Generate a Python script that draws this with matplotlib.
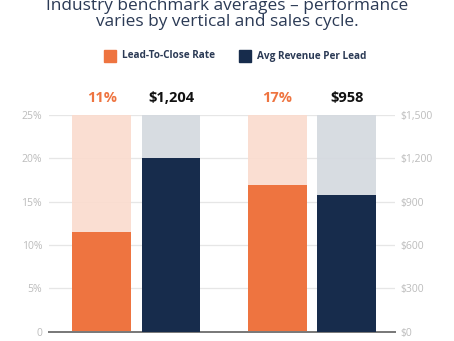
import matplotlib
matplotlib.use("Agg")
import matplotlib.pyplot as plt
import numpy as np

plt.rcParams['font.family'] = ['Open Sans', 'DejaVu Sans']

# data
groups = [0, 1]
close_rate = [11.5, 16.9]          # % (bar heights)
close_labels = ['11%', '17%']
revenue = [1200, 945]              # $ (bar heights)
revenue_labels = ['$1,204', '$958']
pct_ticks = [0, 5, 10, 15, 20, 25]
pct_ticklabels = ['0', '5%', '10%', '15%', '20%', '25%']
usd_ticks = [0, 300, 600, 900, 1200, 1500]
usd_ticklabels = ['$0', '$300', '$600', '$900', '$1,200', '$1,500']

orange = '#ee7440'
orange_light = '#fadccf'
navy = '#172c4c'
gray_light = '#d4d9df'
title_col = '#2b3a55'
tick_col = '#bcbcbc'

fig = plt.figure(figsize=(4.54, 3.41), dpi=100)
ax = fig.add_axes([0.108, 0.027, 0.762, 0.636])
ax2 = ax.twinx()

x = np.array(groups, dtype=float)
w = 0.335
off = 0.197

# orange series on left axis
ax.bar(x - off, [25, 25], w, color=orange_light, alpha=0.92, zorder=2)
ax.bar(x - off, close_rate, w, color=orange, zorder=3)
ax.set_ylim(0, 25)
ax.set_xlim(-0.496, 1.47)
ax.set_yticks(pct_ticks)
ax.set_yticklabels(pct_ticklabels)
ax.yaxis.grid(True, color='#e6e6e6', linewidth=0.9, zorder=0)
ax.set_axisbelow(True)

# navy series on right axis
ax2.bar(x + off, [1500, 1500], w, color=gray_light, alpha=0.92, zorder=2)
ax2.bar(x + off, revenue, w, color=navy, zorder=3)
ax2.set_ylim(0, 1500)
ax2.set_yticks(usd_ticks)
ax2.set_yticklabels(usd_ticklabels)

for a in (ax, ax2):
    for s in ['top', 'left', 'right']:
        a.spines[s].set_visible(False)
    a.spines['bottom'].set_color('#7a7a7a')
    a.spines['bottom'].set_linewidth(1.4)
    a.tick_params(axis='y', length=0, labelsize=7.5, labelcolor=tick_col)
    a.tick_params(axis='x', length=0, labelbottom=False)
ax.tick_params(axis='y', pad=5)
ax2.tick_params(axis='y', pad=4)

# value labels above the bars
for xi, lab in zip(x, close_labels):
    ax.text(xi - off, 27.0, lab, ha='center', va='center', color=orange,
            fontsize=10.5, fontweight='bold')
for xi, lab in zip(x, revenue_labels):
    ax.text(xi + off, 27.0, lab, ha='center', va='center', color='#111111',
            fontsize=10.5, fontweight='bold')

# title (cut at top of the image, as in the source)
fig.text(0.5, 1.0 - 9.5 / 341, 'Industry benchmark averages \u2013 performance',
         ha='center', va='baseline', fontsize=12.4, color=title_col)
fig.text(0.5, 1.0 - 26.5 / 341, 'varies by vertical and sales cycle.',
         ha='center', va='baseline', fontsize=12.4, color=title_col)

# legend
fig.patches.append(plt.Rectangle((104 / 454, 1 - 62 / 341), 12 / 454, 12 / 341,
                                 transform=fig.transFigure, color=orange))
fig.text(122 / 454, 1 - 56 / 341, 'Lead-To-Close Rate', ha='left', va='center',
         fontsize=7.2, fontweight='bold', color=title_col)
fig.patches.append(plt.Rectangle((239 / 454, 1 - 62 / 341), 12 / 454, 12 / 341,
                                 transform=fig.transFigure, color=navy))
fig.text(257 / 454, 1 - 56 / 341, 'Avg Revenue Per Lead', ha='left', va='center',
         fontsize=7.2, fontweight='bold', color=title_col)

fig.savefig('out.png', dpi=100)
